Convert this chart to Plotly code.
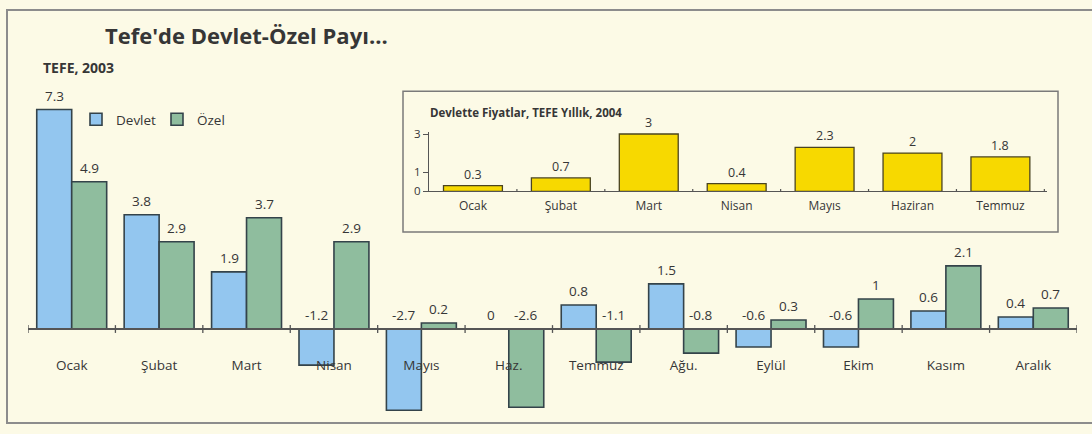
import plotly.graph_objects as go

# TEFE 2003: monthly change by sector
months = ["Ocak", "Şubat", "Mart", "Nisan", "Mayıs", "Haz.", "Temmuz",
          "Ağu.", "Eylül", "Ekim", "Kasım", "Aralık"]
devlet = [7.3, 3.8, 1.9, -1.2, -2.7, 0, 0.8, 1.5, -0.6, -0.6, 0.6, 0.4]
ozel = [4.9, 2.9, 3.7, 2.9, 0.2, -2.6, -1.1, -0.8, 0.3, 1, 2.1, 0.7]

# Public sector prices, TEFE yearly 2004
months_2004 = ["Ocak", "Şubat", "Mart", "Nisan", "Mayıs", "Haziran", "Temmuz"]
devlet_2004 = [0.3, 0.7, 3, 0.4, 2.3, 2, 1.8]
ticks_2004 = [0, 1, 3]

W, H = 1092, 434
FONT = "Open Sans"
TXT = "#363636"
BG = "#fcfae6"
BLUE = "#93c6ef"
GREEN = "#8fbd9e"
YELLOW = "#f7d900"
EDGE = "#34434a"


def px(x):
    return x / W


def py(y):
    return 1 - y / H


# main panel geometry (pixels)
zero_main = 333
unit_main = 31
y_lo = -(H - zero_main) / unit_main
y_hi = zero_main / unit_main

fig = go.Figure()
fig.add_trace(go.Bar(x=months, y=devlet, name="Devlet", marker=dict(color=BLUE, line=dict(color=EDGE, width=1.6)),
                     xaxis="x", yaxis="y"))
fig.add_trace(go.Bar(x=months, y=ozel, name="Özel", marker=dict(color=GREEN, line=dict(color=EDGE, width=1.6)),
                     xaxis="x", yaxis="y"))
fig.add_trace(go.Bar(x=months_2004, y=devlet_2004, showlegend=False, width=0.67,
                     marker=dict(color=YELLOW, line=dict(color="#4a4420", width=1.3)),
                     xaxis="x2", yaxis="y2"))

annotations = []
# value labels for the grouped bars, sitting above the bar top or the zero line
for i in range(len(months)):
    for off, v in ((-0.2, devlet[i]), (0.2, ozel[i])):
        annotations.append(dict(x=i + off, y=max(v, 0), xref="x", yref="y", text=f"{v:g}",
                                showarrow=False, yanchor="bottom", yshift=3,
                                font=dict(size=13.5, color=TXT, family=FONT)))
for i, v in enumerate(devlet_2004):
    annotations.append(dict(x=i, y=v, xref="x2", yref="y2", text=f"{v:g}", showarrow=False,
                            yanchor="bottom", yshift=1, font=dict(size=12.5, color=TXT, family=FONT)))

annotations += [
    dict(x=px(103), y=py(30), xref="paper", yref="paper", xanchor="left", yanchor="middle", showarrow=False,
         text="<b>Tefe'de Devlet-Özel Payı...</b>", font=dict(size=22, color=TXT, family=FONT)),
    dict(x=px(41), y=py(63), xref="paper", yref="paper", xanchor="left", yanchor="middle", showarrow=False,
         text="<b>TEFE, 2003</b>", font=dict(size=14, color=TXT, family=FONT)),
    dict(x=px(428), y=py(110), xref="paper", yref="paper", xanchor="left", yanchor="middle", showarrow=False,
         text="<b>Devlette Fiyatlar, TEFE Yıllık, 2004</b>", font=dict(size=11.5, color=TXT, family=FONT)),
]

shapes = [
    dict(type="rect", xref="paper", yref="paper", x0=px(7), x1=1.05, y0=py(430), y1=py(4),
         line=dict(color="#8c8c8c", width=2), layer="below"),
    dict(type="rect", xref="paper", yref="paper", x0=px(403), x1=px(1058), y0=py(233), y1=py(88),
         line=dict(color="#7a7a7a", width=1.5), layer="below"),
]
# small tick marks crossing the zero lines at category boundaries
for i in range(len(months) + 1):
    shapes.append(dict(type="line", xref="x", yref="y", x0=i - 0.5, x1=i - 0.5, y0=-0.13, y1=0.13,
                       line=dict(color="#555", width=1.3)))
for i in range(1, len(months_2004) + 1):
    shapes.append(dict(type="line", xref="x2", yref="y2", x0=i - 0.5, x1=i - 0.5, y0=-0.12, y1=0.12,
                       line=dict(color="#555", width=1.2)))

fig.update_layout(
    width=W, height=H, margin=dict(l=0, r=0, t=0, b=0),
    paper_bgcolor=BG, plot_bgcolor="rgba(0,0,0,0)",
    barmode="group", bargap=0.2, bargroupgap=0,
    font=dict(family=FONT, color=TXT),
    showlegend=True,
    legend=dict(orientation="h", x=px(76), y=py(117), xanchor="left", yanchor="middle",
                bgcolor="rgba(0,0,0,0)", font=dict(size=13.5, color=TXT, family=FONT),
                itemwidth=30, traceorder="normal", entrywidth=36, entrywidthmode="pixels"),
    xaxis=dict(domain=[px(28), px(1077)], anchor="free", position=(H - zero_main) / H,
               showline=True, linecolor="#555", linewidth=1.5, showgrid=False, zeroline=False,
               ticks="", ticklabelstandoff=24, tickfont=dict(size=13.5, color=TXT, family=FONT),
               range=[-0.5, len(months) - 0.5], fixedrange=True),
    yaxis=dict(domain=[0, 1], range=[y_lo, y_hi], visible=False, fixedrange=True),
    xaxis2=dict(domain=[px(429), px(1047)], anchor="y2", showline=True, linecolor="#555", linewidth=1.3,
                showgrid=False, zeroline=False, ticks="", ticklabelstandoff=3,
                tickfont=dict(size=12, color=TXT, family=FONT), range=[-0.5, len(months_2004) - 0.47]),
    yaxis2=dict(domain=[(H - 191) / H, (H - 130) / H], range=[0, 3.1], anchor="x2",
                showline=True, linecolor="#555", linewidth=1.3, showgrid=False, zeroline=False,
                tickvals=ticks_2004, ticks="outside", ticklen=5, tickcolor="#555",
                tickfont=dict(size=11.5, color=TXT, family=FONT)),
    annotations=annotations,
    shapes=shapes,
)

fig.write_html("out.html")
